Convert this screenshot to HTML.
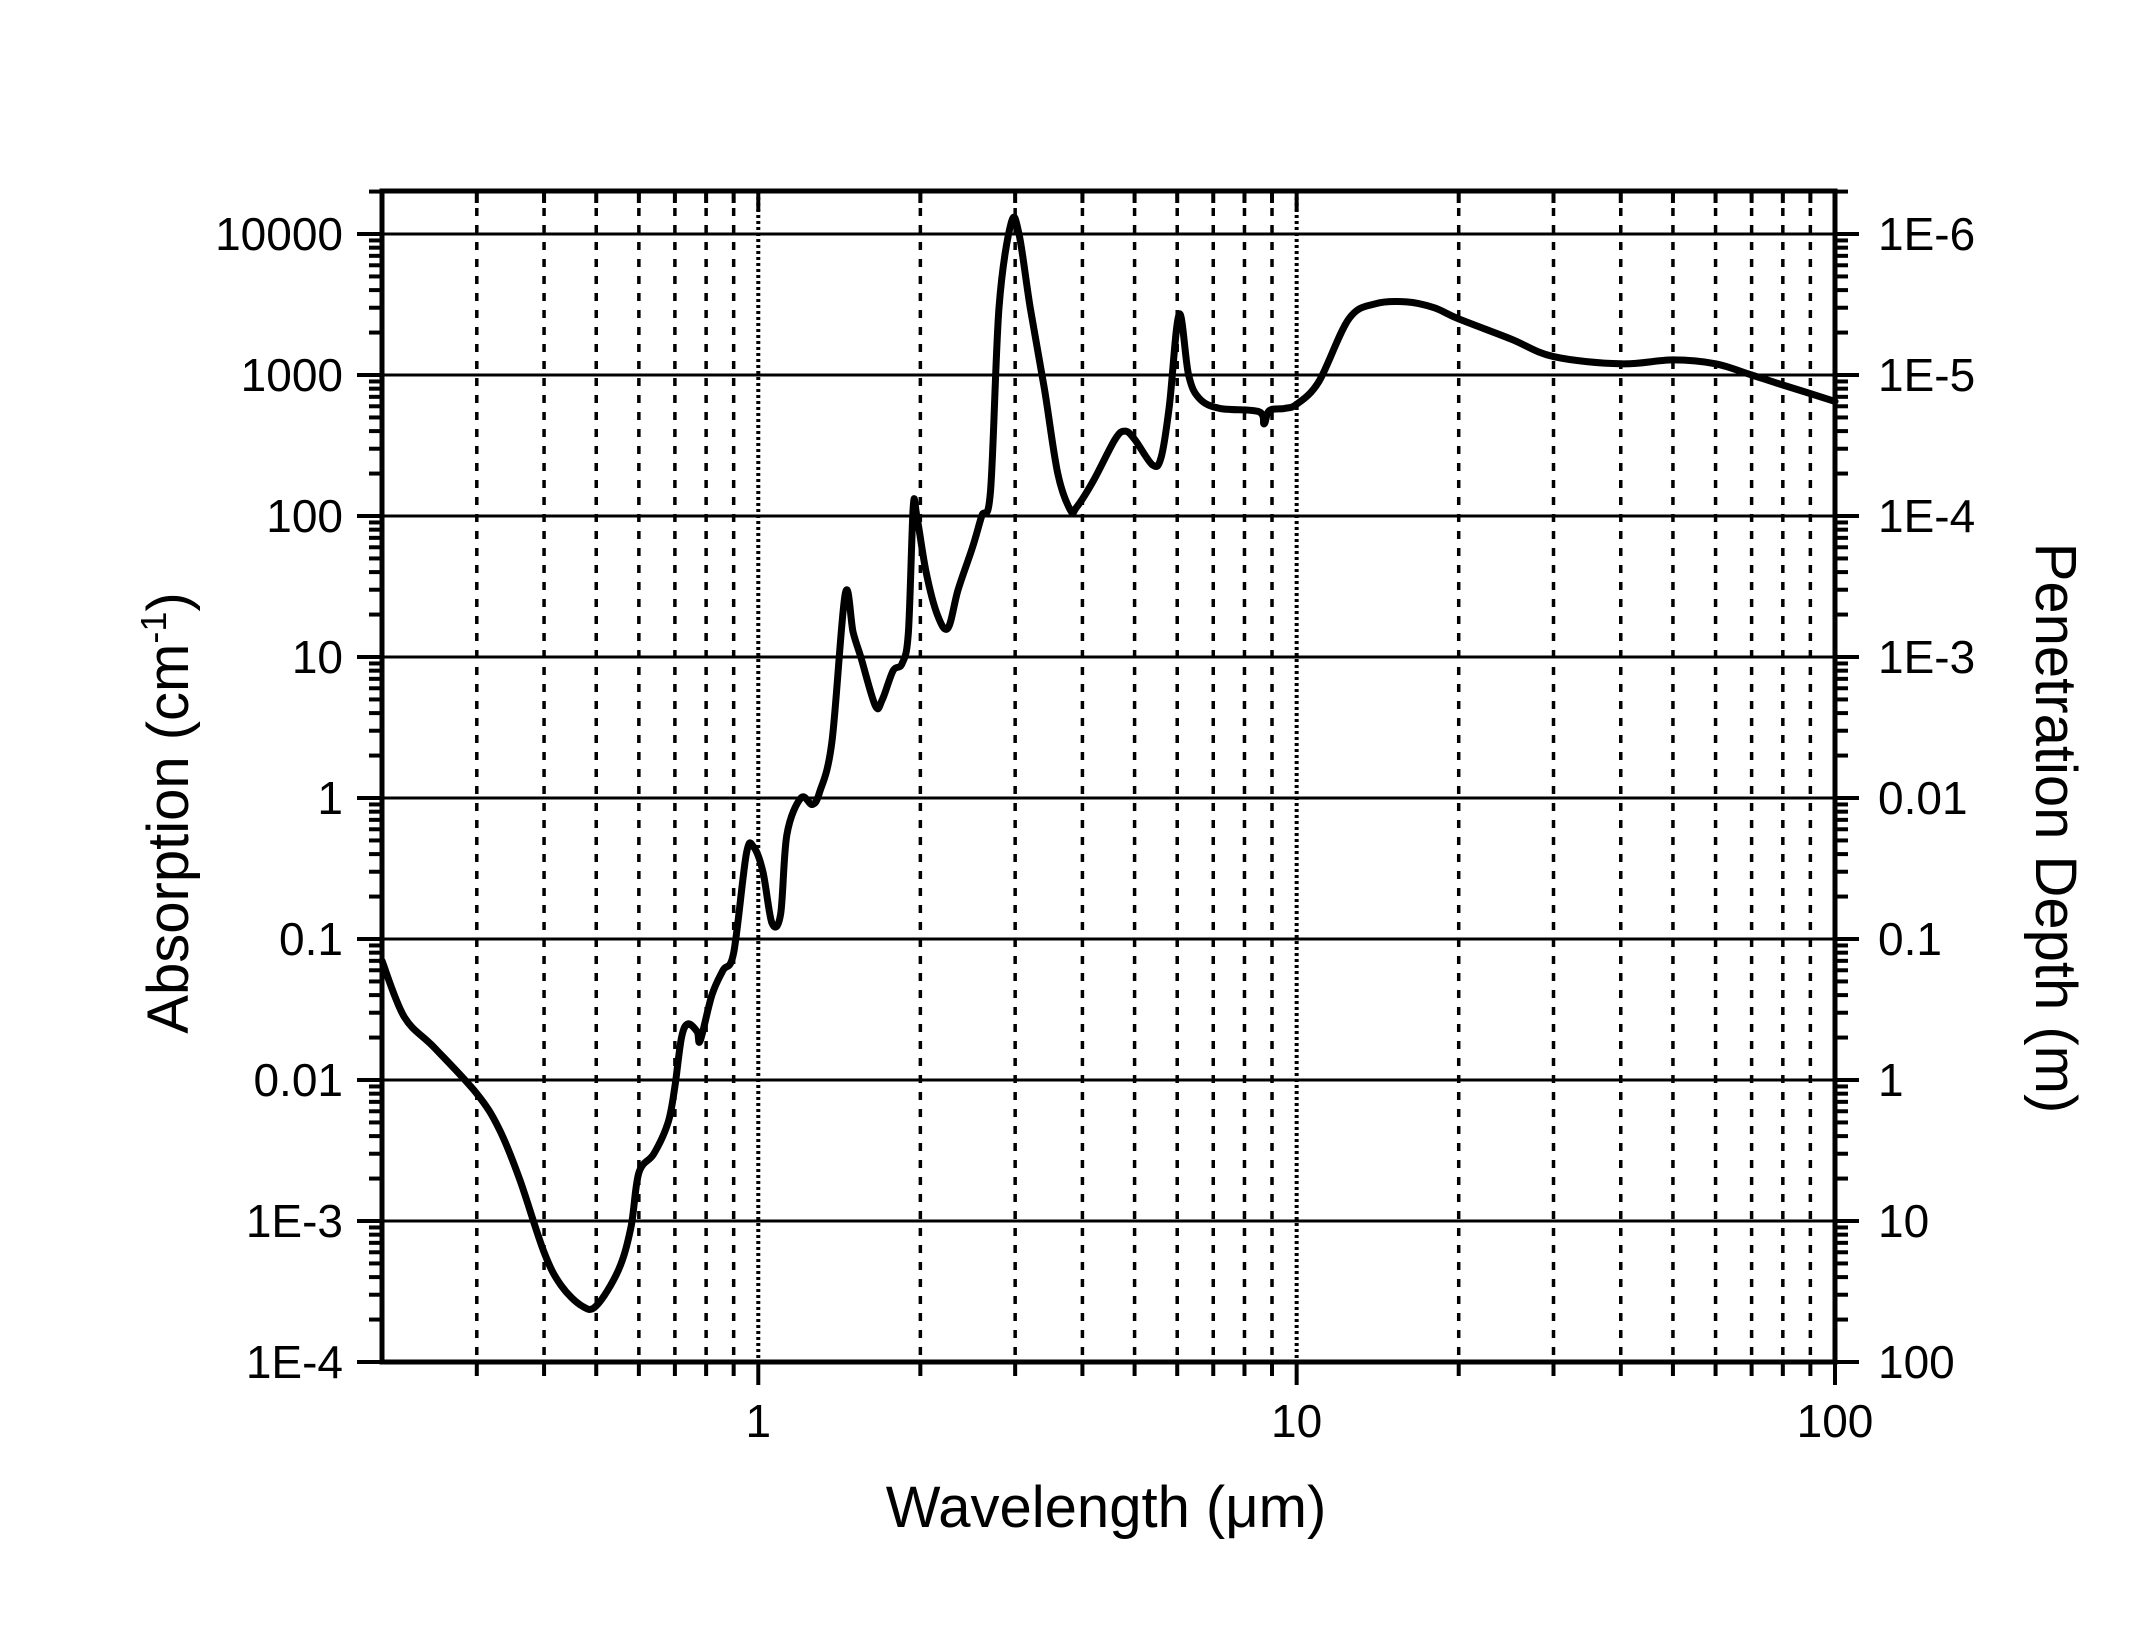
<!DOCTYPE html>
<html><head><meta charset="utf-8"><style>
html,body{margin:0;padding:0;background:#fff;}
svg{display:block;}
text{font-family:"Liberation Sans",Arial,sans-serif;fill:#000;}
</style></head><body>
<svg id="chart" width="2131" height="1633" viewBox="0 0 2131 1633" xmlns="http://www.w3.org/2000/svg">
<rect x="0" y="0" width="2131" height="1633" fill="#fff"/>
<g id="grid"></g>
<g id="axes"></g>
<g id="series"></g>
<text x="1106" y="1527" font-size="58" text-anchor="middle">Wavelength (μm)</text>
<text transform="translate(188,813) rotate(-90)" font-size="58" text-anchor="middle">Absorption (cm<tspan dy="-22" font-size="36">-1</tspan><tspan dy="22">)</tspan></text>
<text transform="translate(2036,828) rotate(90)" font-size="58" text-anchor="middle">Penetration Depth (m)</text>
</svg>
<script>
const wavelengths = [0.2,0.22,0.25,0.3,0.33,0.36,0.4,0.43,0.47,0.5,0.55,0.58,0.6,0.64,0.68,0.7,0.72,0.74,0.77,0.78,0.82,0.86,0.9,0.95,0.98,1.02,1.06,1.1,1.13,1.2,1.26,1.3,1.37,1.45,1.5,1.55,1.65,1.7,1.78,1.85,1.9,1.94,1.97,2.05,2.15,2.25,2.35,2.5,2.6,2.7,2.8,2.95,3.05,3.2,3.4,3.6,3.8,3.9,4.2,4.6,4.8,5.0,5.4,5.6,5.8,6.05,6.3,6.6,7.2,8.5,8.7,8.9,9.5,10,11,12.5,14,16,18,20,25,30,40,50,60,70,80,100];
const absorption = [0.07,0.028,0.017,0.008,0.0045,0.002,0.0006,0.00035,0.00025,0.00025,0.00045,0.0009,0.0022,0.003,0.005,0.009,0.02,0.025,0.022,0.019,0.04,0.06,0.08,0.4,0.45,0.3,0.13,0.15,0.55,1.0,0.9,1.1,2.5,28,15,10,4.5,5,8,9,15,115,100,40,20,16,30,60,100,150,3000,12000,10000,3000,800,200,110,115,180,350,400,350,230,260,600,2700,1000,680,580,550,450,560,580,620,900,2500,3200,3300,3000,2500,1800,1350,1200,1280,1200,1000,850,650];
const leftTickValues = [10000,1000,100,10,1,0.1,0.01,0.001,0.0001];
const leftTickLabels = ["10000","1000","100","10","1","0.1","0.01","1E-3","1E-4"];
const rightTickLabels = ["1E-6","1E-5","1E-4","1E-3","0.01","0.1","1","10","100"];
const xTickValues = [1,10,100];
const xTickLabels = ["1","10","100"];

const NS="http://www.w3.org/2000/svg";
const X0=382,X1=1835,XMIN=0.2,XMAX=100;
const YTOP=191,YBOT=1362,Y4=234,DEC=141;
function xs(v){return X0+(Math.log10(v)-Math.log10(XMIN))/(Math.log10(XMAX)-Math.log10(XMIN))*(X1-X0);}
function ys(v){return Y4+(4-Math.log10(v))*DEC;}
function mk(tag,attrs,parent){const e=document.createElementNS(NS,tag);for(const k in attrs)e.setAttribute(k,attrs[k]);parent.appendChild(e);return e;}
const grid=document.getElementById('grid'),axes=document.getElementById('axes'),series=document.getElementById('series');

leftTickValues.forEach(v=>{const y=ys(v);if(y>YTOP+2&&y<YBOT-2){
const l=mk('line',{x1:X0,x2:X1,y1:y,y2:y,stroke:'#000','stroke-width':3},grid);

}});
for(let d=-1;d<=1;d++){for(let m=1;m<=9;m++){const v=m*Math.pow(10,d);if(v<=XMIN+1e-9||v>=XMAX-1e-9)continue;const x=xs(v);
const major=(m===1);
const l=mk('line',{x1:x,x2:x,y1:YTOP,y2:YBOT,stroke:'#000','stroke-width':major?4:3.5,'stroke-dasharray':major?'3,3':'8,9'},grid);


mk('line',{x1:x,x2:x,y1:YTOP,y2:YTOP+(major?20:12),stroke:'#000','stroke-width':4},axes);
mk('line',{x1:x,x2:x,y1:YBOT,y2:YBOT+(major?23:14),stroke:'#000','stroke-width':4},axes);
}}
const fr=mk('rect',{x:X0,y:YTOP,width:X1-X0,height:YBOT-YTOP,fill:'none',stroke:'#000','stroke-width':5},axes);


for(let e=-4;e<=4;e++){for(let m=1;m<=9;m++){const v=m*Math.pow(10,e);const y=ys(v);if(y<YTOP||y>YBOT)continue;
const major=(m===1);
mk('line',{x1:X0-(major?25:13),x2:X0,y1:y,y2:y,stroke:'#000','stroke-width':4},axes);
mk('line',{x1:X1,x2:X1+(major?24:13),y1:y,y2:y,stroke:'#000','stroke-width':4},axes);}}
mk('line',{x1:X1,x2:X1,y1:YBOT,y2:YBOT+23,stroke:'#000','stroke-width':4},axes);
leftTickValues.forEach((v,i)=>{
const t=mk('text',{x:343,y:ys(v)+16,'font-size':46,'text-anchor':'end'},axes);t.textContent=leftTickLabels[i];


const r=mk('text',{x:1878,y:ys(v)+16,'font-size':46,'text-anchor':'start'},axes);r.textContent=rightTickLabels[i];

});
xTickValues.forEach((v,i)=>{
const t=mk('text',{x:xs(v),y:1437,'font-size':46,'text-anchor':'middle'},axes);t.textContent=xTickLabels[i];

});
// smooth curve (Catmull-Rom)
const P=wavelengths.map((w,i)=>[xs(w),ys(absorption[i])]);
let d='M'+P[0][0].toFixed(1)+','+P[0][1].toFixed(1);
const tn=0.25;
for(let i=0;i<P.length-1;i++){
const p0=P[Math.max(0,i-1)],p1=P[i],p2=P[i+1],p3=P[Math.min(P.length-1,i+2)];
const c1=[p1[0]+(p2[0]-p0[0])*tn/1.5,p1[1]+(p2[1]-p0[1])*tn/1.5];
const c2=[p2[0]-(p3[0]-p1[0])*tn/1.5,p2[1]-(p3[1]-p1[1])*tn/1.5];
d+=' C'+c1[0].toFixed(1)+','+c1[1].toFixed(1)+' '+c2[0].toFixed(1)+','+c2[1].toFixed(1)+' '+p2[0].toFixed(1)+','+p2[1].toFixed(1);}
const pl=mk('path',{d:d,fill:'none',stroke:'#000','stroke-width':7,'stroke-linejoin':'round','stroke-linecap':'round'},series);


</script>
</body></html>
